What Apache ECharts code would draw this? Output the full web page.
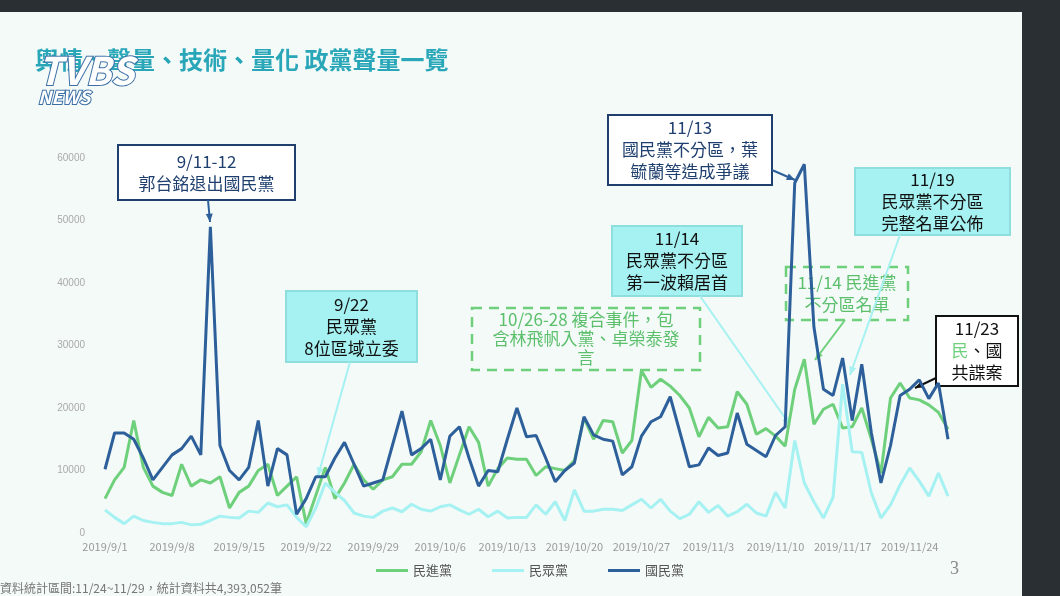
<!DOCTYPE html>
<html>
<head>
<meta charset="utf-8">
<script src="https://cdn.jsdelivr.net/npm/echarts@6/dist/echarts.min.js"></script>
<style>
  html, body { margin: 0; padding: 0; background: #eef6f4; }
  #chart { width: 1060px; height: 596px; }
</style>
</head>
<body>
<div id="chart"></div>
<script>
// 日期 2019/9/1 ~ 2019/11/28
const dates = []
for (let i = 0; i < 89; i++) {
    const d = new Date(2019, 8, 1 + i)
    dates.push('2019/' + (d.getMonth() + 1) + '/' + d.getDate())
}

const dpp = [ // 民進黨
    5500, 8500, 10500, 18000, 10500, 7500, 6500, 6000, 11000, 7500,
    8500, 8000, 9000, 4000, 6500, 7500, 10000, 11000, 6000, 7500,
    9000, 1500, 6000, 10500, 5500, 8000, 11000, 8500, 7000, 8500,
    9000, 11000, 11000, 13000, 18000, 14000, 8000, 12500, 17000, 14500,
    7500, 10300, 12000, 11800, 11800, 9200, 10600, 10300, 10000, 11600,
    18400, 15000, 18000, 17800, 12800, 14800, 26000, 23300, 24600, 23500,
    22000, 20000, 15400, 18500, 16800, 17000, 22600, 20600, 15800, 16700,
    15500, 13900, 23000, 27800, 17400, 19800, 20600, 16800, 17000, 20000,
    15000, 9600, 21600, 24000, 21600, 21300, 20500, 19300, 16600
]
const tpp = [ // 民眾黨
    3700, 2500, 1500, 2700, 2000, 1700, 1500, 1500, 1700, 1300,
    1400, 2000, 2700, 2500, 2400, 3500, 3300, 4800, 4200, 4500,
    2500, 1000, 4000, 8000, 6500, 5200, 3200, 2700, 2500, 3500,
    4000, 3400, 4600, 3800, 3500, 4200, 4500, 3700, 3000, 3800,
    2600, 3500, 2400, 2500, 2500, 4500, 3000, 5000, 2000, 6900,
    3500, 3500, 3800, 3800, 3600, 4500, 5400, 4000, 5400, 3500,
    2300, 3000, 5000, 3300, 4400, 2700, 3400, 4600, 3200, 2700,
    6500, 4000, 14800, 8000, 5000, 2400, 5700, 23800, 13000, 12900,
    6400, 2400, 4500, 7700, 10400, 8300, 5900, 9600, 5900
]
const kmt = [ // 國民黨
    10200, 16000, 16000, 15000, 12000, 8500, 10500, 12500, 13500, 15500,
    12500, 49000, 14000, 10000, 8500, 10500, 18000, 7500, 13500, 12500,
    3000, 5500, 9000, 9000, 12000, 14500, 11000, 7500, 8000, 8500,
    14000, 19500, 12500, 13500, 15000, 8500, 15500, 17000, 12000, 7500,
    10000, 9800, 15000, 20000, 15400, 15600, 12000, 8200, 10000, 11200,
    18600, 15700, 15000, 14700, 9300, 10600, 15500, 17800, 18600, 21800,
    16200, 10600, 10900, 13600, 12400, 12800, 19200, 14200, 13200, 12200,
    15600, 17000, 56000, 59000, 33000, 23000, 22000, 28000, 18000, 27000,
    16000, 8000, 14000, 22000, 23000, 24500, 21500, 24000, 15000
]

const NAVY = '#2d5f9a', GREEN = '#6fd07c', CYAN = '#a6f1f1'
const FONT = '"Noto Sans CJK TC", sans-serif'

function box(x, y, w, h, fill, stroke, lines, color, dashed, lh) {
    lh = lh || 22
    return {
        type: 'group', z: 100, children: [
            { type: 'rect', shape: { x: x, y: y, width: w, height: h },
              style: { fill: fill, stroke: stroke, lineWidth: dashed ? 2.5 : 2, lineDash: dashed ? [10, 7] : null } },
            { type: 'text', x: x + w / 2, y: y + h / 2,
              style: { text: lines, rich: {
                  g: { fill: GREEN, fontSize: 17, fontFamily: FONT, lineHeight: lh },
                  n: { fill: '#111', fontSize: 17, fontFamily: FONT, lineHeight: lh }
              }, fill: color, font: '17px ' + FONT, lineHeight: lh,
              align: 'center', verticalAlign: 'middle' } }
        ]
    }
}
function arrow(x1, y1, x2, y2, color) {
    const a = Math.atan2(y2 - y1, x2 - x1), s = 9
    return {
        type: 'group', z: 99, children: [
            { type: 'line', shape: { x1: x1, y1: y1, x2: x2, y2: y2 }, style: { stroke: color, lineWidth: 2 } },
            { type: 'polygon', shape: { points: [
                [x2, y2],
                [x2 - s * Math.cos(a - 0.4), y2 - s * Math.sin(a - 0.4)],
                [x2 - s * Math.cos(a + 0.4), y2 - s * Math.sin(a + 0.4)]
            ] }, style: { fill: color } }
        ]
    }
}

const chart = echarts.init(document.getElementById('chart'))
chart.setOption({
    backgroundColor: '#f3faf8',
    animation: false,
    grid: { left: 105, right: 112, top: 158, bottom: 63 },
    legend: {
        bottom: 14, left: 'center', itemGap: 40, itemWidth: 32, itemHeight: 3,
        icon: 'rect',
        textStyle: { color: '#555', fontSize: 13, fontFamily: FONT },
        data: ['民進黨', '民眾黨', '國民黨']
    },
    xAxis: {
        type: 'category', data: dates, boundaryGap: false,
        axisLine: { show: false }, axisTick: { show: false },
        axisLabel: { interval: 6, color: '#999', fontSize: 11, fontFamily: FONT, margin: 8 }
    },
    yAxis: {
        type: 'value', min: 0, max: 60000, interval: 10000,
        splitLine: { show: false }, axisLine: { show: false },
        axisLabel: { color: '#aaa', fontSize: 10, margin: 20, formatter: v => String(v) }
    },
    series: [
        { name: '民進黨', type: 'line', data: dpp, showSymbol: false, lineStyle: { width: 3, color: GREEN }, itemStyle: { color: GREEN } },
        { name: '民眾黨', type: 'line', data: tpp, showSymbol: false, lineStyle: { width: 3, color: CYAN }, itemStyle: { color: CYAN } },
        { name: '國民黨', type: 'line', data: kmt, showSymbol: false, lineStyle: { width: 3, color: NAVY }, itemStyle: { color: NAVY } }
    ],
    graphic: [
        { type: 'rect', shape: { x: 1022, y: 0, width: 38, height: 596 }, style: { fill: '#2a2f33' } },
        { type: 'rect', shape: { x: 0, y: 0, width: 1060, height: 12 }, style: { fill: '#2a2f33' } },
        { type: 'text', x: 35, y: 48, style: { text: '輿情、聲量、技術、量化 政黨聲量一覽', fill: '#29a6b8', font: 'bold 24px ' + FONT } },
        { type: 'text', x: 38, y: 52, z: 120, style: { text: 'TVBS', fill: '#fff', stroke: '#3b6fa5', lineWidth: 2, font: 'italic bold 38px ' + FONT } },
        { type: 'text', x: 38, y: 88, z: 120, style: { text: 'NEWS', fill: '#fff', stroke: '#3b6fa5', lineWidth: 2, font: 'italic bold 18px ' + FONT } },
        { type: 'text', x: 0, y: 582, style: { text: '資料統計區間:11/24~11/29，統計資料共4,393,052筆', fill: '#777', font: '12px ' + FONT } },
        { type: 'text', x: 950, y: 560, style: { text: '3', fill: '#888', font: '18px serif' } },

        box(118, 145, 177, 55, '#ffffff', '#1f3f6e', '9/11-12\n郭台銘退出國民黨', '#1f3f6e'),
        arrow(208, 200, 210, 222, NAVY),
        box(286, 291, 131, 71, CYAN, '#8fdede', '9/22\n民眾黨\n8位區域立委', '#111'),
        arrow(350, 362, 318, 476, CYAN),
        box(472, 308, 228, 62, 'rgba(255,255,255,0)', GREEN, '10/26-28 複合事件，包\n含林飛帆入黨、卓榮泰發\n言', '#5cbf6c', true, 19),
        box(612, 226, 130, 70, CYAN, '#8fdede', '11/14\n民眾黨不分區\n第一波賴居首', '#111'),
        arrow(700, 296, 790, 425, CYAN),
        box(608, 115, 164, 70, '#ffffff', '#1f3f6e', '11/13\n國民黨不分區，葉\n毓蘭等造成爭議', '#1f3f6e'),
        arrow(772, 170, 795, 180, NAVY),
        box(786, 267, 122, 53, 'rgba(255,255,255,0)', GREEN, '11/14 民進黨\n不分區名單', '#5cbf6c', true),
        arrow(845, 320, 815, 360, GREEN),
        box(855, 168, 155, 67, CYAN, '#8fdede', '11/19\n民眾黨不分區\n完整名單公佈', '#111'),
        arrow(900, 235, 850, 375, CYAN),
        box(936, 316, 82, 70, '#ffffff', '#111', '{n|11/23}\n{g|民}{n|、國}\n{n|共諜案}', '#111'),
        arrow(936, 378, 915, 388, '#111')
    ]
})
</script>
</body>
</html>
